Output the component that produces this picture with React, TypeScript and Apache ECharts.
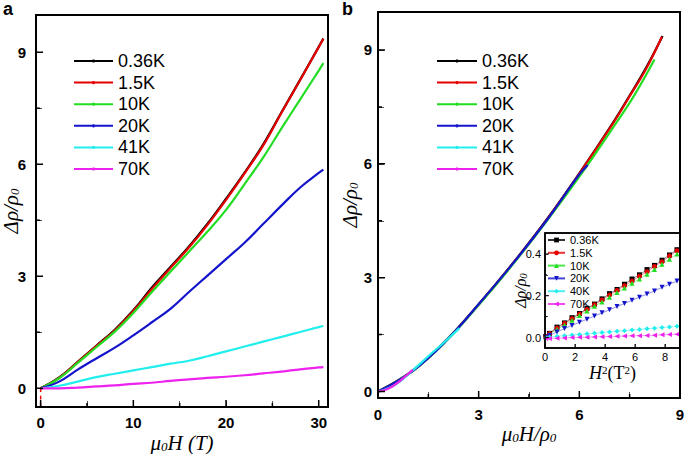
import React, { useEffect, useRef } from 'react';
import * as echarts from 'echarts';

// ---------- Panel a: Δρ/ρ0 vs μ0H (T) ----------
const FIELD_T = [0, 2, 4, 6, 8, 10, 12, 14, 16, 18, 20, 22, 24, 26, 28, 30, 30.5];
const A_036K = [0, 0.29, 0.71, 1.14, 1.57, 2.09, 2.7, 3.25, 3.8, 4.41, 5.08, 5.78, 6.53, 7.4, 8.27, 9.15, 9.37];
const A_15K = [0, 0.28, 0.7, 1.13, 1.55, 2.07, 2.66, 3.22, 3.77, 4.38, 5.05, 5.76, 6.5, 7.39, 8.26, 9.14, 9.36];
const A_10K = [0, 0.27, 0.68, 1.1, 1.52, 2.02, 2.58, 3.12, 3.66, 4.2, 4.78, 5.47, 6.18, 6.97, 7.74, 8.51, 8.71];
const A_20K = [0, 0.18, 0.5, 0.8, 1.09, 1.42, 1.77, 2.13, 2.58, 3.02, 3.46, 3.9, 4.4, 4.9, 5.38, 5.77, 5.86];
const A_41K = [0, 0.07, 0.18, 0.3, 0.39, 0.48, 0.57, 0.66, 0.74, 0.86, 0.99, 1.12, 1.25, 1.38, 1.51, 1.64, 1.67];
const A_70K = [0, 0.0, 0.02, 0.05, 0.08, 0.12, 0.15, 0.2, 0.24, 0.28, 0.31, 0.35, 0.4, 0.45, 0.51, 0.56, 0.57];

// ---------- Panel b: Δρ/ρ0 vs μ0H/ρ0 ----------
const B_X_036K = [0, 1, 2, 3, 4, 5, 6, 7, 7.5, 8, 8.48];
const B_036K = [0, 0.53, 1.32, 2.3, 3.36, 4.5, 5.75, 7.08, 7.8, 8.55, 9.37];
const B_X_15K = [0, 1, 2, 3, 4, 5, 6, 7, 7.5, 8, 8.46];
const B_15K = [0, 0.52, 1.31, 2.29, 3.35, 4.49, 5.74, 7.06, 7.78, 8.52, 9.35];
const B_X_10K = [0, 1, 2, 3, 4, 5, 6, 7, 7.6, 8.24];
const B_10K = [0, 0.52, 1.3, 2.28, 3.33, 4.46, 5.66, 6.95, 7.75, 8.75];
const B_X_20K = [0, 1, 2, 3, 4, 5, 6, 6.25];
const B_20K = [0, 0.52, 1.31, 2.3, 3.35, 4.48, 5.72, 5.97];
const B_X_41K = [0, 0.5, 1, 1.5, 2, 2.43];
const B_41K = [0, 0.17, 0.53, 0.93, 1.32, 1.67];
const B_X_70K = [0, 0.2, 0.4, 0.6, 0.8, 1.04];
const B_70K = [0, 0.04, 0.12, 0.24, 0.39, 0.57];

// ---------- Inset: Δρ/ρ0 vs H² (T²) ----------
const INSET_H2 = [0.05, 0.3, 0.8, 1.3, 1.8, 2.3, 2.8, 3.3, 3.8, 4.3, 4.8, 5.3, 5.8, 6.3, 6.8, 7.3, 7.8, 8.3, 8.8];
const IN_036K = [0.005, 0.02, 0.05, 0.07, 0.095, 0.115, 0.14, 0.16, 0.185, 0.21, 0.23, 0.255, 0.28, 0.3, 0.325, 0.345, 0.37, 0.395, 0.42];
const IN_15K = [0.005, 0.018, 0.045, 0.068, 0.09, 0.112, 0.135, 0.157, 0.18, 0.203, 0.225, 0.248, 0.27, 0.293, 0.315, 0.34, 0.362, 0.39, 0.415];
const IN_10K = [0.003, 0.015, 0.04, 0.06, 0.083, 0.105, 0.127, 0.15, 0.17, 0.193, 0.215, 0.237, 0.26, 0.28, 0.303, 0.325, 0.35, 0.375, 0.4];
const IN_20K = [0.002, 0.01, 0.027, 0.043, 0.058, 0.073, 0.088, 0.103, 0.118, 0.133, 0.148, 0.163, 0.178, 0.193, 0.208, 0.223, 0.24, 0.255, 0.27];
const IN_40K = [0, 0.002, 0.006, 0.009, 0.012, 0.015, 0.018, 0.021, 0.024, 0.027, 0.03, 0.033, 0.036, 0.039, 0.042, 0.045, 0.048, 0.051, 0.054];
const IN_70K = [-0.005, -0.004, -0.003, -0.002, 0, 0.001, 0.002, 0.003, 0.004, 0.005, 0.006, 0.007, 0.008, 0.009, 0.01, 0.011, 0.013, 0.014, 0.016];

// ---------- Axis ranges and tick positions ----------
const A_X_RANGE = [-0.5, 31];
const A_Y_RANGE = [-0.5, 10];
const B_X_RANGE = [0, 9];
const B_Y_RANGE = [-0.17, 10];
const IN_X_RANGE = [0, 9];
const IN_Y_RANGE = [-0.05, 0.5];
const A_X_LABELS = [0, 10, 20, 30];
const A_X_TICKS = [0, 5, 10, 15, 20, 25, 30];
const A_Y_LABELS = [0, 3, 6, 9];
const A_Y_TICKS = [0, 1.5, 3, 4.5, 6, 7.5, 9];
const B_X_LABELS = [0, 3, 6, 9];
const B_X_TICKS = [0, 1.5, 3, 4.5, 6, 7.5, 9];
const B_Y_LABELS = [0, 3, 6, 9];
const B_Y_TICKS = [0, 1.5, 3, 4.5, 6, 7.5, 9];
const IN_X_LABELS = [0, 2, 4, 6, 8];
const IN_Y_LABELS = [0, 0.2, 0.4];
const IN_Y_TICKS = [0, 0.1, 0.2, 0.3, 0.4];

const MAIN_NAMES = ['0.36K', '1.5K', '10K', '20K', '41K', '70K'];
const INSET_LABELS = ['0.36K', '1.5K', '10K', '20K', '40K', '70K'];
const COLORS = ['#000000', '#e60000', '#22dd22', '#1414cc', '#22eeee', '#ee22ee'];
const INSET_SYMBOLS = ['rect', 'circle', 'triangle', 'triangle', 'diamond', 'triangle'];
const INSET_ROTATE = [0, 0, 0, 180, 0, 90];

const A_SERIES = [A_036K, A_15K, A_10K, A_20K, A_41K, A_70K];
const B_SERIES_X = [B_X_036K, B_X_15K, B_X_10K, B_X_20K, B_X_41K, B_X_70K];
const B_SERIES_Y = [B_036K, B_15K, B_10K, B_20K, B_41K, B_70K];
const IN_SERIES = [IN_036K, IN_15K, IN_10K, IN_20K, IN_40K, IN_70K];

// layout of the three plotting frames (pixels)
const GRIDS = [
  { left: 36, top: 15, width: 292, height: 392, border: 2 },
  { left: 378, top: 12, width: 302, height: 386, border: 2 },
  { left: 545, top: 233, width: 135, height: 115, border: 1.5 },
];

const SANS = 'Liberation Sans, Arial, sans-serif';
const SERIF = 'Liberation Serif, Times New Roman, serif';

const tickFont = { fontFamily: SANS, fontWeight: 'bold' as const, fontSize: 15, color: '#000' };
const insetTickFont = { fontFamily: SANS, fontSize: 11, color: '#000' };

const nameRich = (size: number, sub: number, pad: number) => ({
  m: { fontFamily: SERIF, fontStyle: 'italic', fontSize: size, color: '#000', verticalAlign: 'top', lineHeight: size },
  n: { fontFamily: SERIF, fontSize: size, color: '#000', verticalAlign: 'top', lineHeight: size },
  s: { fontFamily: SERIF, fontStyle: 'italic', fontSize: sub, color: '#000', verticalAlign: 'bottom', lineHeight: sub, padding: [pad, 0, 0, 0] },
  p: { fontFamily: SERIF, fontSize: sub, color: '#000', verticalAlign: 'top', lineHeight: sub },
});

function valueAxis(grid: number, range: number[], labels: number[], ticks: number[], len: number, label: any, rest: any) {
  return {
    type: 'value',
    gridIndex: grid,
    min: range[0],
    max: range[1],
    axisLine: { show: false, onZero: false },
    splitLine: { show: false },
    axisTick: { show: true, inside: true, length: len, customValues: ticks },
    axisLabel: { customValues: labels, ...label },
    nameMoveOverlap: false,
    ...rest,
  };
}

// Frame drawn as a closed line through the axis extents (so it uses the axes' scales)
function frameSeries(idx: number, xr: number[], yr: number[], width: number) {
  return {
    type: 'line',
    name: 'frame-' + idx,
    xAxisIndex: idx,
    yAxisIndex: idx,
    data: [[xr[0], yr[0]], [xr[1], yr[0]], [xr[1], yr[1]], [xr[0], yr[1]], [xr[0], yr[0]]],
    symbol: 'none',
    clip: false,
    silent: true,
    lineStyle: { color: '#000', width, cap: 'square', join: 'miter' },
    z: 6,
  };
}

// Inward tick marks as short segments, lengths converted from pixels into axis units
function tickSeries(idx: number, xr: number[], yr: number[], g: any, xt: number[], xMajor: number[], yt: number[], yMajor: number[], major: number, minor: number, width: number) {
  const data: any[] = [];
  const yPerPx = (yr[1] - yr[0]) / g.height;
  const xPerPx = (xr[1] - xr[0]) / g.width;
  xt.forEach((v) => {
    const len = xMajor.indexOf(v) >= 0 ? major : minor;
    data.push([v, yr[0]], [v, yr[0] + len * yPerPx], ['-', '-']);
  });
  yt.forEach((v) => {
    const len = yMajor.indexOf(v) >= 0 ? major : minor;
    data.push([xr[0], v], [xr[0] + len * xPerPx, v], ['-', '-']);
  });
  return {
    type: 'line',
    name: 'ticks-' + idx,
    xAxisIndex: idx,
    yAxisIndex: idx,
    data,
    symbol: 'none',
    connectNulls: false,
    clip: false,
    silent: true,
    lineStyle: { color: '#000', width },
    z: 6,
  };
}

function buildOption() {
  const series: any[] = [];
  MAIN_NAMES.forEach((name, i) => {
    series.push({
      type: 'line',
      name,
      xAxisIndex: 0,
      yAxisIndex: 0,
      data: FIELD_T.map((h, k) => [h, A_SERIES[i][k]]),
      smooth: 0.4,
      symbol: 'circle',
      symbolSize: 3,
      showSymbol: false,
      lineStyle: { color: COLORS[i], width: 2.2 },
      itemStyle: { color: COLORS[i] },
    });
  });
  // short red broken line below the origin of panel a
  series.push({
    type: 'line',
    name: 'zero-field',
    xAxisIndex: 0,
    yAxisIndex: 0,
    data: [[0, -0.5], [0, -0.4], ['-', '-'], [0, -0.3], [0, -0.2], ['-', '-'], [0, -0.1], [0, 0]],
    symbol: 'none',
    connectNulls: false,
    silent: true,
    lineStyle: { color: '#e60000', width: 1.5 },
  });
  MAIN_NAMES.forEach((name, i) => {
    series.push({
      type: 'line',
      name,
      xAxisIndex: 1,
      yAxisIndex: 1,
      data: B_SERIES_X[i].map((x, k) => [x, B_SERIES_Y[i][k]]),
      smooth: 0.4,
      symbol: 'circle',
      symbolSize: 3,
      showSymbol: false,
      lineStyle: { color: COLORS[i], width: 2.2 },
      itemStyle: { color: COLORS[i] },
    });
  });
  INSET_LABELS.forEach((name, i) => {
    series.push({
      type: 'line',
      name: name + ' ',
      xAxisIndex: 2,
      yAxisIndex: 2,
      data: INSET_H2.map((x, k) => [x, IN_SERIES[i][k]]),
      symbol: INSET_SYMBOLS[i],
      symbolRotate: INSET_ROTATE[i],
      symbolSize: 5,
      lineStyle: { color: COLORS[i], width: 0.6, opacity: 0.8 },
      itemStyle: { color: COLORS[i] },
    });
  });

  series.push(frameSeries(0, A_X_RANGE, A_Y_RANGE, 2));
  series.push(frameSeries(1, B_X_RANGE, B_Y_RANGE, 2));
  series.push(frameSeries(2, IN_X_RANGE, IN_Y_RANGE, 1.5));
  series.push(tickSeries(0, A_X_RANGE, A_Y_RANGE, GRIDS[0], A_X_TICKS, A_X_LABELS, A_Y_TICKS, A_Y_LABELS, 7, 4, 1.5));
  series.push(tickSeries(1, B_X_RANGE, B_Y_RANGE, GRIDS[1], B_X_TICKS, B_X_LABELS, B_Y_TICKS, B_Y_LABELS, 7, 4, 1.5));
  series.push(tickSeries(2, IN_X_RANGE, IN_Y_RANGE, GRIDS[2], IN_X_LABELS, IN_X_LABELS, IN_Y_TICKS, IN_Y_LABELS, 4, 2, 1));

  return {
    animation: false,
    grid: GRIDS.map((g) => ({
      left: g.left, top: g.top, width: g.width, height: g.height,
      show: true, borderColor: '#000', borderWidth: g.border, outerBoundsMode: 'none',
    })),
    xAxis: [
      valueAxis(0, A_X_RANGE, A_X_LABELS, A_X_TICKS, 6, { margin: 8, ...tickFont }, {
        name: '{m|μ}{s|0}{m|H (T)}',
        nameLocation: 'middle',
        nameGap: 25,
        nameTextStyle: { rich: nameRich(21, 13, 8) },
      }),
      valueAxis(1, B_X_RANGE, B_X_LABELS, B_X_TICKS, 6, { margin: 9, ...tickFont }, {
        name: '{m|μ}{s|0}{m|H/ρ}{s|0}',
        nameLocation: 'middle',
        nameGap: 25,
        nameTextStyle: { rich: nameRich(21, 13, 8) },
      }),
      valueAxis(2, IN_X_RANGE, IN_X_LABELS, IN_X_LABELS, 4, { margin: 3, ...insetTickFont }, {
        name: '{m|H}{p|2}{n|(T}{p|2}{n|)}',
        nameLocation: 'middle',
        nameGap: 16,
        nameTextStyle: { rich: nameRich(18, 11, 0) },
      }),
    ],
    yAxis: [
      valueAxis(0, A_Y_RANGE, A_Y_LABELS, A_Y_TICKS, 6, { margin: 10, ...tickFont }, {
        name: '{m|Δρ/ρ}{s|0}',
        nameLocation: 'middle',
        nameGap: 15,
        nameRotate: 90,
        nameTextStyle: { rich: nameRich(21, 13, 8) },
      }),
      valueAxis(1, B_Y_RANGE, B_Y_LABELS, B_Y_TICKS, 6, { margin: 6, ...tickFont }, {
        name: '{m|Δρ/ρ}{s|0}',
        nameLocation: 'middle',
        nameGap: 18,
        nameRotate: 90,
        nameTextStyle: { rich: nameRich(21, 13, 8) },
      }),
      valueAxis(2, IN_Y_RANGE, IN_Y_LABELS, IN_Y_TICKS, 3, { margin: 4, ...insetTickFont, formatter: (v: number) => v.toFixed(1) }, {
        name: '{m|Δρ/ρ}{s|0}',
        nameLocation: 'middle',
        nameGap: 17,
        nameRotate: 90,
        nameTextStyle: { rich: nameRich(16, 11, 7) },
      }),
    ],
    legend: [
      {
        left: 68, top: 47, orient: 'vertical', itemWidth: 39, itemHeight: 4, itemGap: 3.6,
        data: MAIN_NAMES, selectedMode: false,
        textStyle: { fontFamily: SANS, fontSize: 18, lineHeight: 18, color: '#000' },
      },
      {
        left: 431, top: 47, orient: 'vertical', itemWidth: 40, itemHeight: 4, itemGap: 3.6,
        data: MAIN_NAMES, selectedMode: false,
        textStyle: { fontFamily: SANS, fontSize: 18, lineHeight: 18, color: '#000' },
      },
      {
        left: 542, top: 229.5, orient: 'vertical', itemWidth: 17, itemHeight: 6, itemGap: 1.8,
        data: INSET_LABELS.map((n) => n + ' '), selectedMode: false,
        formatter: (n: string) => n.trim(),
        textStyle: { fontFamily: SANS, fontSize: 11, lineHeight: 11, color: '#000' },
      },
    ],
    graphic: [
      { type: 'text', left: 3, top: 0, style: { text: 'a', font: 'bold 18px Liberation Sans, Arial', fill: '#000' } },
      { type: 'text', left: 342, top: 0, style: { text: 'b', font: 'bold 18px Liberation Sans, Arial', fill: '#000' } },
    ],
    series,
  };
}

export default function App() {
  const ref = useRef<HTMLDivElement>(null);
  useEffect(() => {
    const chart = echarts.init(ref.current!, null, { renderer: 'svg' });
    chart.setOption(buildOption() as any);
    return () => chart.dispose();
  }, []);
  return (
    <div
      ref={ref}
      style={{ position: 'fixed', left: 0, top: 0, width: 685, height: 454, background: '#fff' }}
    />
  );
}
